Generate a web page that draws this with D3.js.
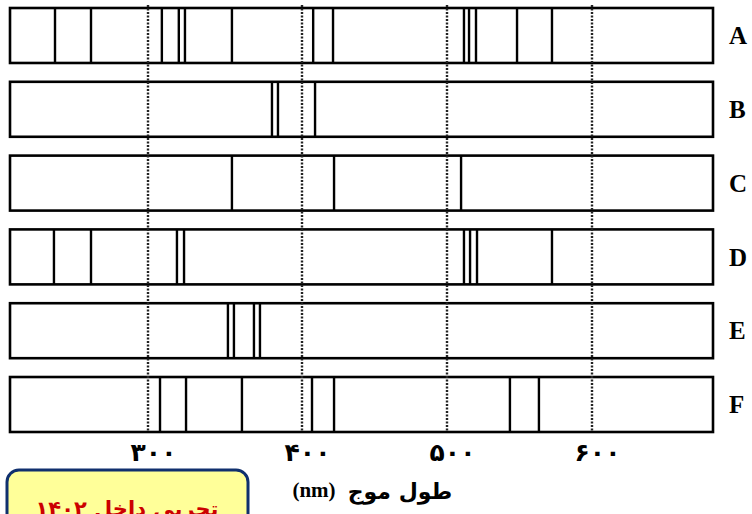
<!DOCTYPE html>
<html>
<head>
<meta charset="utf-8">
<script src="https://d3js.org/d3.v7.min.js"></script>
<style>
    body { margin: 0; background: #fff; }
</style>
</head>
<body>
<div id="chart"></div>
<script>
    // spectra rows (wavelengths in nm)
    var rows = ["A", "B", "C", "D", "E", "F"];
    var linesA = [238, 262, 309, 320, 324, 354.5, 407.7, 421.4, 511.7, 515.2, 520, 548.3, 572.4];
    var linesB = [380.5, 384.4, 409];
    var linesC = [354.5, 422.1, 509.7];
    var linesD = [237.3, 262, 318.8, 323.4, 511.7, 515.9, 520.7, 572.4];
    var linesE = [351.9, 355.8, 368.8, 372.7];
    var linesF = [307.8, 324.7, 361, 406.9, 422.1, 543.4, 563.4];
    var tickValues = [300, 400, 500, 600];
    var wlMin = 208, wlMax = 683;
    var axisTitle = "طول موج";
    var axisUnit = "(nm)";
    var badgeText = "تجربی داخل ۱۴۰۲";

    var spectra = [linesA, linesB, linesC, linesD, linesE, linesF];

    var width = 752,
        height = 514;

    var svg = d3.select("#chart")
        .append("svg")
        .attr("width", width)
        .attr("height", height);

    // the printed scale is not quite even, so use a piecewise linear scale
    var x = d3.scaleLinear()
        .domain([wlMin, 300, 400, 500, 600, wlMax])
        .range([10, 148, 302, 447, 592, 713]);

    var y = d3.scaleBand()
        .domain(rows)
        .range([8, 432])
        .paddingInner(0.255)
        .paddingOuter(0);

    var row = svg.append("g")
        .attr("class", "rows")
        .selectAll("g")
        .data(rows)
        .enter().append("g")
        .attr("transform", function(d) { return "translate(0," + y(d) + ")"; });

    row.append("rect")
        .attr("x", x(wlMin))
        .attr("y", 0)
        .attr("width", x(wlMax) - x(wlMin))
        .attr("height", y.bandwidth())
        .style("fill", "#fff")
        .style("stroke", "#000")
        .style("stroke-width", 2.6);

    row.selectAll("line.em")
        .data(function(d, i) { return spectra[i]; })
        .enter().append("line")
        .attr("class", "em")
        .attr("x1", function(d) { return x(d); })
        .attr("x2", function(d) { return x(d); })
        .attr("y1", 0)
        .attr("y2", y.bandwidth())
        .style("stroke", "#000")
        .style("stroke-width", 2.4);

    row.append("text")
        .attr("x", 729)
        .attr("y", y.bandwidth() / 2)
        .attr("dy", "0.35em")
        .style("font-family", "'Liberation Serif', serif")
        .style("font-weight", "bold")
        .style("font-size", "25px")
        .text(function(d) { return d; });

    // dotted guide lines
    svg.append("g")
        .attr("class", "guides")
        .selectAll("line")
        .data(tickValues)
        .enter().append("line")
        .attr("x1", function(d) { return x(d); })
        .attr("x2", function(d) { return x(d); })
        .attr("y1", 5)
        .attr("y2", 432)
        .style("stroke", "#222")
        .style("stroke-width", 2.4)
        .style("stroke-dasharray", "2,1.5");

    var faDigits = "۰۱۲۳۴۵۶۷۸۹";
    function toFa(n) {
        return String(n).replace(/[0-9]/g, function(c) { return faDigits[+c]; });
    }

    var axis = svg.append("g")
        .attr("transform", "translate(5,432)")
        .call(d3.axisBottom(x)
            .tickValues(tickValues)
            .tickSize(0)
            .tickPadding(11)
            .tickFormat(toFa));

    axis.select(".domain").remove();
    axis.selectAll("text")
        .style("font-family", "'DejaVu Sans', sans-serif")
        .style("font-weight", "bold")
        .style("font-size", "25px")
        .style("fill", "#000");

    svg.append("text")
        .attr("x", 314)
        .attr("y", 497)
        .attr("text-anchor", "middle")
        .style("font-family", "'Liberation Serif', serif")
        .style("font-weight", "bold")
        .style("font-size", "21px")
        .text(axisUnit);

    svg.append("text")
        .attr("x", 400)
        .attr("y", 499)
        .attr("text-anchor", "middle")
        .style("font-family", "'DejaVu Sans', sans-serif")
        .style("font-weight", "bold")
        .style("font-size", "22px")
        .text(axisTitle);

    // yellow badge in the corner
    svg.append("rect")
        .attr("x", 7)
        .attr("y", 470)
        .attr("width", 241)
        .attr("height", 70)
        .attr("rx", 12)
        .style("fill", "#ffff99")
        .style("stroke", "#10306e")
        .style("stroke-width", 3);

    svg.append("text")
        .attr("x", 127)
        .attr("y", 516)
        .attr("text-anchor", "middle")
        .attr("direction", "rtl")
        .style("font-family", "'DejaVu Sans', sans-serif")
        .style("font-weight", "bold")
        .style("font-size", "21px")
        .style("fill", "#cc0000")
        .text(badgeText);
</script>
</body>
</html>
